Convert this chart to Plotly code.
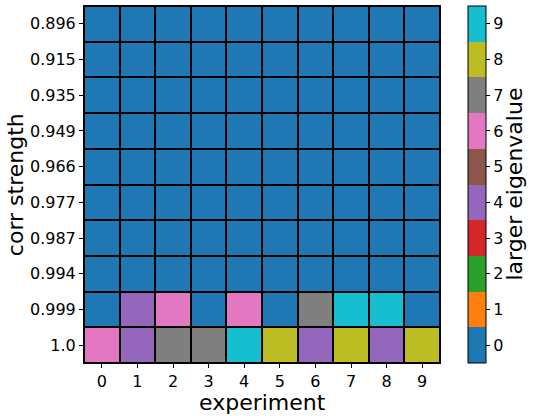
import plotly.graph_objects as go

# corr strength rows, top to bottom
corr_labels = ['0.896', '0.915', '0.935', '0.949', '0.966',
               '0.977', '0.987', '0.994', '0.999', '1.0']
experiments = list(range(10))

# larger eigenvalue per (corr strength, experiment)
eig_values = [
    [0, 0, 0, 0, 0, 0, 0, 0, 0, 0],
    [0, 0, 0, 0, 0, 0, 0, 0, 0, 0],
    [0, 0, 0, 0, 0, 0, 0, 0, 0, 0],
    [0, 0, 0, 0, 0, 0, 0, 0, 0, 0],
    [0, 0, 0, 0, 0, 0, 0, 0, 0, 0],
    [0, 0, 0, 0, 0, 0, 0, 0, 0, 0],
    [0, 0, 0, 0, 0, 0, 0, 0, 0, 0],
    [0, 0, 0, 0, 0, 0, 0, 0, 0, 0],
    [0, 4, 6, 0, 6, 0, 7, 9, 9, 0],
    [6, 4, 7, 7, 9, 8, 4, 8, 4, 8],
]

tab10 = ['#1f77b4', '#ff7f0e', '#2ca02c', '#d62728', '#9467bd',
         '#8c564b', '#e377c2', '#7f7f7f', '#bcbd22', '#17becf']


def discrete_scale(colors):
    """ Build a stepped colorscale, one flat band per color. """
    n = len(colors)
    scale = []
    for i, c in enumerate(colors):
        scale.append([i / n, c])
        scale.append([(i + 1) / n, c])
    return scale


fig = go.Figure(go.Heatmap(
    z=eig_values,
    x=experiments,
    y=list(range(len(corr_labels))),
    zmin=-0.5, zmax=9.5,
    colorscale=discrete_scale(tab10),
    xgap=2, ygap=2,
    hoverinfo='skip',
    colorbar=dict(
        x=1.079, xanchor='left', xpad=0,
        y=0.5, yanchor='middle', len=1, lenmode='fraction', ypad=0,
        thickness=18,
        outlinewidth=1, outlinecolor='black',
        tickmode='array', tickvals=list(range(10)),
        ticks='outside', ticklen=4, tickcolor='black',
        tickfont=dict(size=16, color='black'),
    ),
))

# axis / colorbar labels placed by hand (paper coords)
title_font = dict(size=22, color='black')
fig.add_annotation(text='larger eigenvalue', textangle=-90,
                   xref='paper', yref='paper', x=1.208, y=0.5,
                   xanchor='center', yanchor='middle', showarrow=False,
                   font=title_font)
fig.add_annotation(text='corr strength', textangle=-90,
                   xref='paper', yref='paper', x=-0.192, y=0.5,
                   xanchor='center', yanchor='middle', showarrow=False,
                   font=title_font)
fig.add_annotation(text='experiment',
                   xref='paper', yref='paper', x=0.5, y=-0.11,
                   xanchor='center', yanchor='middle', showarrow=False,
                   font=title_font)

fig.update_layout(
    width=533, height=416,
    margin=dict(l=84, r=93, t=6, b=53),
    paper_bgcolor='white',
    plot_bgcolor='black',
    font=dict(family='DejaVu Sans', color='black'),
    xaxis=dict(
        tickmode='array', tickvals=experiments,
        ticks='outside', ticklen=4, tickcolor='black',
        tickfont=dict(size=16),
        range=[-0.5, 9.5], showgrid=False, zeroline=False,
        showline=True, linecolor='black', linewidth=1, mirror=True,
    ),
    yaxis=dict(
        tickmode='array', tickvals=list(range(len(corr_labels))),
        ticktext=corr_labels,
        ticks='outside', ticklen=4, tickcolor='black',
        tickfont=dict(size=16),
        range=[9.5, -0.5], showgrid=False, zeroline=False,
        showline=True, linecolor='black', linewidth=1, mirror=True,
    ),
)

# drop the browser's default 8px body margin so the figure fills the window
fig.write_html("out.html", config={'displayModeBar': False},
               post_script="document.body.style.margin = '0';")
